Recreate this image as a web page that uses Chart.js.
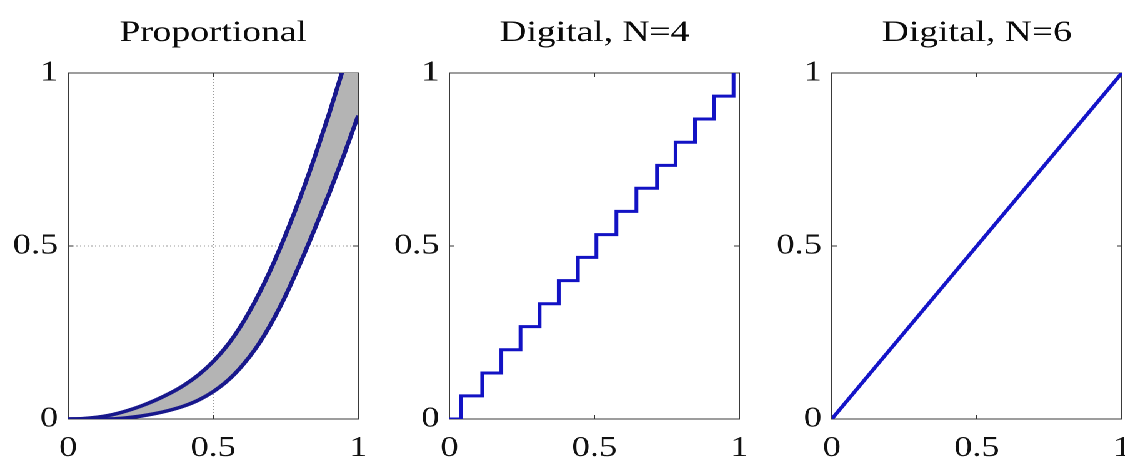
<!DOCTYPE html>
<html><head><meta charset="utf-8">
<script src="https://cdn.jsdelivr.net/npm/chart.js@4"></script>
<style>
html,body{margin:0;padding:0;background:#fff;overflow:hidden;width:1125px;height:461px}
#wrap{position:absolute;left:0;top:0;width:900px;height:461px;transform:scaleX(1.25);transform-origin:0 0}
canvas{position:absolute;top:0}
</style></head>
<body><div id="wrap">
<canvas id="c1" width="341" height="461" style="left:0px"></canvas>
<canvas id="c2" width="341" height="461" style="left:305px"></canvas>
<canvas id="c3" width="341" height="461" style="left:610.5px"></canvas>
</div>
<script>
// ---- data ----
const titles = ['Proportional', 'Digital, N=4', 'Digital, N=6'];
const tickValues = [0, 0.5, 1];
const tickLabels = ['0', '0.5', '1'];

// Panel 1: proportional band (upper / lower curves)
const propX     = [0, 0.05, 0.1, 0.15, 0.2, 0.25, 0.3, 0.35, 0.4, 0.45, 0.5, 0.55, 0.6, 0.65, 0.7, 0.75, 0.8, 0.85, 0.9, 0.95, 1.0];
const propUpper = [0, 0.001, 0.005, 0.012, 0.023, 0.037, 0.054, 0.074, 0.098, 0.128, 0.166, 0.214, 0.275, 0.349, 0.435, 0.533, 0.640, 0.757, 0.883, 1.017, 1.158];
const propLower = [0, 0, 0, 0.0003, 0.0034, 0.0084, 0.0156, 0.0253, 0.0378, 0.055, 0.079, 0.111, 0.154, 0.208, 0.276, 0.357, 0.45, 0.549, 0.652, 0.761, 0.877];

// Panel 2: digital N=4 staircase (x where each step rises, level after the rise)
const n4RiseX = [0, 0.040, 0.113, 0.179, 0.245, 0.311, 0.377, 0.443, 0.507, 0.576, 0.645, 0.716, 0.780, 0.847, 0.913, 0.980];
const n4Level = [0, 0.067, 0.133, 0.2, 0.267, 0.333, 0.4, 0.467, 0.533, 0.6, 0.667, 0.733, 0.8, 0.867, 0.933, 1.0];

// Panel 3: digital N=6 (fine steps, practically a straight line)
const n6X = [0, 0.25, 0.5, 0.75, 1];
const n6Y = [0, 0.25, 0.5, 0.75, 1];

// ---- chart setup ----
Chart.defaults.font.family = "'Liberation Serif', 'Times New Roman', serif";
Chart.defaults.color = '#111';

const setTicks = s => { s.ticks = tickValues.map(v => ({ value: v })); };
const lbl = (v, i) => tickLabels[i];

function scalesCfg(withGrid) {
  const gridMain = {
    display: true, drawOnChartArea: withGrid, color: '#9a9a9a', lineWidth: 1,
    drawTicks: true, tickLength: -4, tickColor: '#333', tickWidth: 1
  };
  const gridSide = { display: true, drawOnChartArea: false, drawTicks: true, tickLength: -4, tickColor: '#333', tickWidth: 1 };
  const border = { display: true, color: '#3a3a3a', width: 1, dash: withGrid ? [1, 2] : [] };
  const base = { type: 'linear', min: 0, max: 1, afterBuildTicks: setTicks };
  return {
    x: Object.assign({}, base, {
      position: 'bottom', grid: gridMain, border,
      ticks: { padding: 16, font: { size: 29 }, color: '#111', callback: lbl, maxRotation: 0, autoSkip: false },
      afterFit: s => { s.height = 42; }
    }),
    y: Object.assign({}, base, {
      position: 'left', grid: gridMain, border,
      ticks: { padding: 12, font: { size: 29 }, color: '#111', callback: lbl, autoSkip: false },
      afterFit: s => { s.width = 54.5; }
    }),
    xt: Object.assign({}, base, {
      position: 'top', grid: gridSide, border: { display: true, color: '#3a3a3a', width: 1 },
      ticks: { display: false }, afterFit: s => { s.height = 0; }
    }),
    yr: Object.assign({}, base, {
      position: 'right', grid: gridSide, border: { display: true, color: '#3a3a3a', width: 1 },
      ticks: { display: false }, afterFit: s => { s.width = 54.5; }
    })
  };
}

function optionsCfg(title, withGrid) {
  return {
    responsive: false, devicePixelRatio: 2, animation: false,
    layout: { padding: 0 },
    plugins: {
      legend: { display: false }, tooltip: { enabled: false },
      filler: { drawTime: 'beforeDatasetsDraw' },
      title: {
        display: true, text: title, color: '#0a0a0a',
        font: { size: 30, weight: 'normal', lineHeight: 1.2 },
        padding: { top: 15, bottom: 22 }
      }
    },
    scales: scalesCfg(withGrid)
  };
}

const pts = (xs, ys) => xs.map((x, i) => ({ x, y: ys[i] }));

new Chart(document.getElementById('c1'), {
  type: 'line',
  data: {
    datasets: [
      { data: pts(propX, propUpper), borderColor: '#18188c', borderWidth: 3.5, pointRadius: 0,
        cubicInterpolationMode: 'monotone', fill: false },
      { data: pts(propX, propLower), borderColor: '#18188c', borderWidth: 3.5, pointRadius: 0,
        cubicInterpolationMode: 'monotone', fill: '-1', backgroundColor: '#b4b4b4' }
    ]
  },
  options: optionsCfg(titles[0], true)
});

new Chart(document.getElementById('c2'), {
  type: 'line',
  data: {
    datasets: [
      { data: pts(n4RiseX, n4Level), borderColor: '#1212c4', borderWidth: 3, pointRadius: 0,
        stepped: 'before', fill: false }
    ]
  },
  options: optionsCfg(titles[1], false)
});

new Chart(document.getElementById('c3'), {
  type: 'line',
  data: {
    datasets: [
      { data: pts(n6X, n6Y), borderColor: '#1414c8', borderWidth: 3.2, pointRadius: 0, fill: false }
    ]
  },
  options: optionsCfg(titles[2], false)
});
</script>
</body></html>
